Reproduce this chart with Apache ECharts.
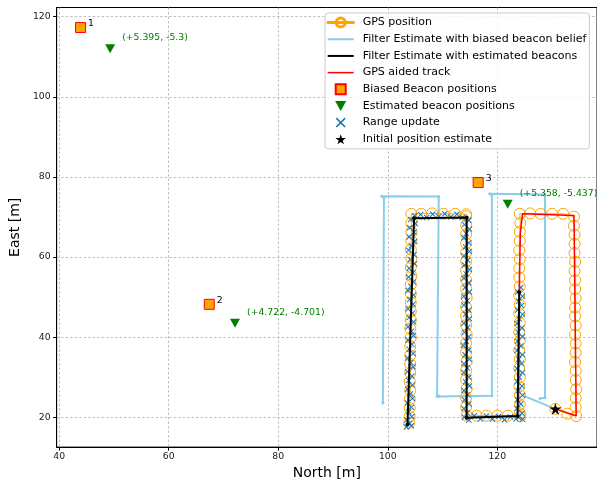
<!DOCTYPE html>
<html><head><meta charset="utf-8">
<script src="https://cdn.jsdelivr.net/npm/echarts@6/dist/echarts.min.js"></script>
<style>html,body{margin:0;padding:0;background:#fff}#c{width:597px;height:485px}</style>
</head><body><div id="c"></div>
<script>
const FONT = 'DejaVu Sans';
const xTicks = [40, 60, 80, 100, 120];
const yTicks = [20, 40, 60, 80, 100, 120];

// Beacons
const biasedBeacons = [[43.9, 117.3], [67.4, 48.2], [116.5, 78.6]];
const beaconNames = ['1', '2', '3'];
const estimatedBeacons = [[49.3, 112.0], [72.1, 43.5], [121.9, 73.2]];
const beaconOffsets = ['(+5.395, -5.3)', '(+4.722, -4.701)', '(+5.358, -5.437)'];

const initialPosition = [[130.6, 22.1]];

// GPS positions (by leg)
const gpsStart = [[130.6, 22.1], [132.8, 20.9], [134.4, 20.3]];
const gpsCol4 = [[134.3,22.5],[134.3,24.8],[134.4,27.0],[134.3,29.3],[134.3,31.6],[134.2,33.8],[134.3,36.1],[134.3,38.4],[134.2,40.6],[134.3,42.9],[134.2,45.2],[134.2,47.4],[134.3,49.7],[134.2,52.0],[134.2,54.2],[134.1,56.5],[134.2,58.8],[134.1,61.0],[134.1,63.3],[134.1,65.6],[134.0,67.8],[134.0,70.1]];
const gpsTop1 = [[132.0,70.8],[130.0,70.8],[127.9,70.8],[126.0,70.9],[124.1,70.8]];
const gpsCol3 = [[124.2,68.5],[124.1,66.3],[124.1,64.0],[124.0,61.7],[124.1,59.5],[124.0,57.2],[124.0,54.9],[124.1,52.7],[124.0,50.4],[124.1,48.1],[124.0,45.9],[124.1,43.6],[124.0,41.3],[124.1,39.1],[124.0,36.8],[124.1,34.5],[124.0,32.3],[124.1,30.0],[124.0,27.7],[124.1,25.5],[124.1,23.2],[124.1,21.0],[124.2,20.3]];
const gpsBottom = [[121.9,20.4],[120.0,20.4],[118.0,20.4],[116.2,20.4],[114.4,20.4]];
const gpsCol2 = [[114.3,22.6],[114.3,24.9],[114.4,27.1],[114.3,29.4],[114.3,31.7],[114.4,33.9],[114.3,36.2],[114.3,38.5],[114.4,40.7],[114.3,43.0],[114.3,45.3],[114.3,47.5],[114.4,49.8],[114.3,52.1],[114.3,54.3],[114.3,56.6],[114.3,58.9],[114.3,61.1],[114.3,63.4],[114.3,65.7],[114.3,67.9],[114.3,70.2],[114.3,70.7]];
const gpsTop2 = [[112.3,70.8],[110.2,70.8],[108.1,70.9],[106.1,70.8],[104.3,70.8]];
const gpsCol1 = [[104.3,68.5],[104.3,66.3],[104.3,64.1],[104.2,61.9],[104.3,59.7],[104.2,57.5],[104.3,55.3],[104.2,53.1],[104.2,50.9],[104.2,48.7],[104.2,46.5],[104.2,44.3],[104.1,42.1],[104.2,39.9],[104.1,37.7],[104.1,35.5],[104.1,33.3],[104.1,31.1],[104.0,28.9],[104.1,26.7],[104.0,24.5],[104.0,22.3],[104.0,20.2],[103.9,18.6]];

// Filter estimate with biased beacon belief
const biasedStart = [[130.6, 22.1], [124.9, 25.3]];
const biasedTrack = [[127.8,24.7],[128.7,24.9],[128.7,75.6],[118.6,75.8],[119.0,75.5],[119.0,25.4],[109.0,25.2],[109.3,25.3],[109.3,75.1],[98.9,75.2],[99.3,74.8],[99.1,23.6]];

// Filter estimate with estimated beacons
const estimatedTrack = [[124.0,51.2],[123.7,20.3],[114.4,19.9],[114.4,69.9],[104.8,69.7],[103.6,18.2]];

// GPS aided track
const gpsAided = [[130.6,22.1],[134.4,20.4],[134.0,70.4],[124.6,70.8],[124.2,66.0],[124.0,51.2]];

// Range updates
const rangeCol1 = [[104.9,70.3],[104.2,69.4],[105.0,68.4],[104.0,67.3],[104.8,66.2],[103.9,65.0],[104.9,63.9],[104.3,62.8],[103.8,61.7],[104.8,60.6],[104.1,59.4],[104.9,58.3],[103.9,57.2],[104.6,56.1],[103.8,55.0],[104.7,53.8],[104.2,52.7],[103.7,51.6],[104.7,50.5],[104.0,49.4],[104.6,48.2],[103.7,47.1],[104.5,46.0],[103.9,44.9],[104.7,43.8],[103.7,42.6],[104.3,41.5],[104.7,40.4],[103.7,39.3],[104.4,38.2],[103.9,37.0],[104.6,35.9],[103.6,34.8],[104.2,33.7],[104.6,32.6],[103.6,31.4],[104.4,30.3],[103.8,29.2],[104.5,28.1],[103.6,27.0],[104.1,25.8],[104.5,24.7],[103.6,23.6],[104.3,22.5],[103.8,21.4],[104.4,20.2],[103.5,19.3],[104.0,18.5],[103.4,17.6],[104.3,17.9]];
const rangeTop2 = [[106.0,70.6],[107.1,69.9],[108.2,70.7],[109.3,70.1],[110.4,70.8],[111.5,70.0],[112.6,70.7],[113.6,69.9]];
const rangeCol2 = [[114.8,69.2],[114.0,68.1],[114.9,67.0],[114.3,65.9],[113.9,64.8],[114.8,63.6],[114.2,62.5],[114.9,61.4],[113.9,60.3],[114.6,59.2],[114.0,58.0],[114.9,56.9],[114.3,55.8],[113.9,54.7],[114.8,53.6],[114.1,52.4],[114.9,51.3],[113.9,50.2],[114.5,49.1],[113.9,48.0],[114.8,46.8],[114.2,45.7],[114.9,44.6],[113.9,43.5],[114.6,42.4],[114.0,41.2],[114.8,40.1],[114.3,39.0],[113.8,37.9],[114.8,36.8],[114.1,35.6],[114.9,34.5],[113.9,33.4],[114.5,32.3],[113.9,31.2],[114.8,30.0],[114.2,28.9],[114.9,27.8],[113.9,26.7],[114.6,25.6],[114.0,24.4],[114.8,23.3],[113.9,22.2],[114.5,21.1],[114.0,20.0],[114.8,19.3]];
const rangeBottom = [[115.8,20.4],[116.9,19.6],[118.0,20.3],[119.1,19.5],[120.2,20.2],[121.3,19.4],[122.4,20.1],[123.4,19.6]];
const rangeCol3 = [[124.3,52.4],[123.7,51.3],[124.6,50.2],[123.9,49.0],[124.4,47.9],[123.7,46.8],[124.6,45.7],[124.0,44.6],[123.6,43.4],[124.5,42.3],[123.8,41.2],[124.6,40.1],[123.7,39.0],[124.3,37.8],[123.6,36.7],[124.6,35.6],[123.9,34.5],[124.4,33.4],[123.6,32.2],[124.6,31.1],[124.0,30.0],[123.6,28.9],[124.5,27.8],[123.8,26.6],[124.6,25.5],[123.7,24.4],[124.3,23.3],[123.6,22.2],[124.5,21.0],[123.9,20.0],[124.6,19.5]];

const gpsTrack = [].concat(gpsStart, gpsCol4, gpsTop1, gpsCol3, gpsBottom, gpsCol2, gpsTop2, gpsCol1);
const rangeUpdates = [].concat(rangeCol1, rangeTop2, rangeCol2, rangeBottom, rangeCol3);

const CROSS = 'path://M0,1.2L1.2,0L5,3.8L8.8,0L10,1.2L6.2,5L10,8.8L8.8,10L5,6.2L1.2,10L0,8.8L3.8,5Z';
const STAR = 'path://M50,0L61.2,34.5L97.6,34.5L68.2,55.9L79.4,90.5L50,69.1L20.6,90.5L31.8,55.9L2.4,34.5L38.8,34.5Z';
const TRI_DOWN = 'path://M0,0L10,0L5,9Z';
const SQUARE = 'path://M0,0H10V10H0Z';
const LINE_ICON = 'path://M0,0H26V2H0Z';
const GPS_ICON = 'path://M0,4.5H8V5.5H0Z M9,4.5H17V5.5H9Z M18,4.5H26V5.5H18Z M13,0A5,5 0 1 1 13,10A5,5 0 1 1 13,0Z M13,1A4,4 0 1 0 13,9A4,4 0 1 0 13,1Z';

const names = {
  gps: 'GPS position',
  biased: 'Filter Estimate with biased beacon belief',
  est: 'Filter Estimate with estimated beacons',
  aided: 'GPS aided track',
  bb: 'Biased Beacon positions',
  eb: 'Estimated beacon positions',
  range: 'Range update',
  init: 'Initial position estimate'
};

const chart = echarts.init(document.getElementById('c'), null, {renderer: 'canvas'});
const gridLine = {show: true, lineStyle: {color: '#b0b0b0', width: 0.8, type: [2.5, 2]}};
const option = {
  animation: false,
  textStyle: {fontFamily: FONT},
  grid: {left: 49.7, right: -0.5, top: 7.5, bottom: 33.7, show: true, borderColor: '#000', borderWidth: 1, backgroundColor: 'transparent'},
  xAxis: {
    type: 'value', min: 39.53, max: 138.2,
    name: 'North [m]', nameLocation: 'middle', nameGap: 17,
    nameTextStyle: {fontFamily: FONT, fontSize: 14, color: '#000'},
    axisLine: {show: true, lineStyle: {color: '#000', width: 1}},
    axisTick: {show: true, length: 3.5, lineStyle: {color: '#000'}, customValues: xTicks},
    axisLabel: {fontFamily: FONT, fontSize: 9.3, color: '#222', margin: 5, customValues: xTicks},
    splitLine: gridLine
  },
  yAxis: {
    type: 'value', min: 12.56, max: 122.3,
    name: 'East [m]', nameLocation: 'middle', nameGap: 29, nameRotate: 90,
    nameTextStyle: {fontFamily: FONT, fontSize: 14, color: '#000'},
    axisLine: {show: true, lineStyle: {color: '#000', width: 1}},
    axisTick: {show: true, length: 3.5, lineStyle: {color: '#000'}, customValues: yTicks},
    axisLabel: {fontFamily: FONT, fontSize: 9.3, color: '#222', margin: 6, customValues: yTicks},
    splitLine: gridLine
  },
  legend: {
    orient: 'vertical', left: 325, top: 13,
    itemWidth: 26, itemHeight: 10, itemGap: 4.67,
    padding: [3.6, 3, 3.6, 1.7],
    backgroundColor: 'rgba(255,255,255,0.85)', borderColor: '#cccccc', borderWidth: 1, borderRadius: 3,
    textStyle: {fontFamily: FONT, fontSize: 11, color: '#000', lineHeight: 12, padding: [0, 0, 0, 4]},
    data: [
      {name: names.gps, icon: GPS_ICON},
      {name: names.biased, icon: LINE_ICON},
      {name: names.est, icon: LINE_ICON},
      {name: names.aided, icon: 'path://M0,0H26V1.5H0Z'},
      {name: names.bb, icon: SQUARE},
      {name: names.eb, icon: TRI_DOWN},
      {name: names.range, icon: CROSS},
      {name: names.init, icon: STAR}
    ]
  },
  series: [
    {name: names.biased, type: 'line', data: biasedStart, showSymbol: false, symbol: 'none', color: '#87ceeb',
     lineStyle: {color: '#87ceeb', width: 2}, z: 2},
    {name: names.biased, type: 'line', data: biasedTrack, symbol: 'circle', symbolSize: 3, showSymbol: true, color: '#87ceeb',
     itemStyle: {color: '#87ceeb'}, lineStyle: {color: '#87ceeb', width: 2}, z: 2},
    {name: names.gps, type: 'line', data: gpsTrack, symbol: 'circle', symbolSize: 11, showSymbol: true, color: '#ffa500',
     itemStyle: {color: 'rgba(0,0,0,0)', borderColor: '#ffa500', borderWidth: 1},
     lineStyle: {color: '#ffa500', width: 1}, z: 3},
    {name: names.range, type: 'scatter', data: rangeUpdates, symbol: CROSS, symbolSize: 6, color: '#1f77b4',
     itemStyle: {color: '#1f77b4', opacity: 1}, z: 4},
    {name: names.est, type: 'line', data: estimatedTrack, symbol: 'circle', symbolSize: 4, showSymbol: true, color: '#000',
     itemStyle: {color: '#000'}, lineStyle: {color: '#000', width: 2}, z: 5},
    {name: names.aided, type: 'line', data: gpsAided, showSymbol: false, symbol: 'none', color: '#ff0000',
     lineStyle: {color: '#ff0000', width: 1.5}, z: 5},
    {name: names.bb, type: 'scatter', data: biasedBeacons, symbol: SQUARE, symbolSize: 10, color: '#ffa500',
     itemStyle: {color: '#ffa500', borderColor: '#ff0000', borderWidth: 1, opacity: 1},
     label: {show: true, position: 'right', distance: 2, offset: [0, -4], fontFamily: FONT, fontSize: 9.3, color: '#000',
       formatter: p => beaconNames[p.dataIndex]}, z: 6},
    {name: names.eb, type: 'scatter', data: estimatedBeacons, symbol: TRI_DOWN, symbolSize: [10, 9], color: '#008000',
     itemStyle: {color: '#008000', opacity: 1},
     label: {show: true, position: 'right', distance: 7, offset: [0, -11], fontFamily: FONT, fontSize: 9.3, color: '#008000',
       formatter: p => beaconOffsets[p.dataIndex]}, z: 6},
    {name: names.init, type: 'scatter', data: initialPosition, symbol: STAR, symbolSize: 12, color: '#000',
     itemStyle: {color: '#000', opacity: 1}, z: 7}
  ]
};
chart.setOption(option);
</script></body></html>
